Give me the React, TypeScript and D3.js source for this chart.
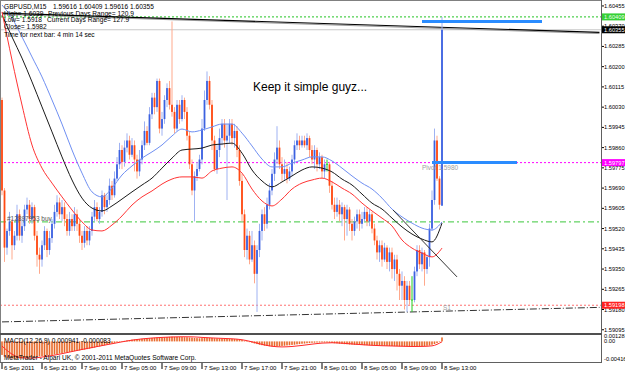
import React from "react";
import * as d3 from "d3";

const W = 625;
const H = 373;

// GBPUSD M15 bars, 6 Sep 17:00 .. 8 Sep 13:00 : [open, high, low, close]
const candles: number[][] = [
  [1.6006,1.6007,1.5966,1.5968],[1.5968,1.5969,1.5938,1.5944],[1.5944,1.5952,1.5941,1.5951],[1.5951,1.5959,1.5949,1.5955],[1.5955,1.5956,1.5939,1.5945],
  [1.5945,1.5951,1.5943,1.5949],[1.5949,1.5962,1.5947,1.5958],[1.5958,1.5960,1.5947,1.5949],[1.5949,1.5956,1.5946,1.5953],[1.5953,1.5962,1.5951,1.5960],
  [1.5960,1.5965,1.5958,1.5962],[1.5962,1.5964,1.5954,1.5956],[1.5956,1.5963,1.5954,1.5961],[1.5961,1.5962,1.5947,1.5949],[1.5949,1.5951,1.5936,1.5941],
  [1.5941,1.5944,1.5933,1.5939],[1.5939,1.5947,1.5936,1.5945],[1.5945,1.5953,1.5943,1.5951],[1.5951,1.5952,1.5940,1.5943],[1.5943,1.5951,1.5941,1.5948],
  [1.5948,1.5956,1.5946,1.5954],[1.5954,1.5962,1.5952,1.5959],[1.5959,1.5966,1.5957,1.5963],[1.5963,1.5965,1.5956,1.5958],[1.5958,1.5964,1.5955,1.5961],
  [1.5961,1.5963,1.5953,1.5956],[1.5956,1.5958,1.5949,1.5951],[1.5951,1.5959,1.5949,1.5956],[1.5956,1.5958,1.5951,1.5953],[1.5953,1.5961,1.5951,1.5958],
  [1.5958,1.5960,1.5951,1.5954],[1.5954,1.5956,1.5946,1.5949],[1.5949,1.5951,1.5943,1.5946],[1.5946,1.5953,1.5944,1.5951],[1.5951,1.5953,1.5945,1.5947],
  [1.5947,1.5953,1.5945,1.5951],[1.5951,1.5959,1.5949,1.5957],[1.5957,1.5964,1.5955,1.5961],[1.5961,1.5963,1.5955,1.5956],[1.5956,1.5961,1.5954,1.5959],
  [1.5959,1.5968,1.5957,1.5966],[1.5966,1.5967,1.5958,1.5961],[1.5961,1.5966,1.5959,1.5964],[1.5964,1.5973,1.5962,1.5970],[1.5970,1.5972,1.5964,1.5966],
  [1.5966,1.5976,1.5965,1.5973],[1.5973,1.5982,1.5972,1.5979],[1.5979,1.5988,1.5977,1.5985],[1.5985,1.5987,1.5977,1.5980],[1.5980,1.5989,1.5978,1.5986],
  [1.5986,1.5992,1.5984,1.5989],[1.5989,1.5991,1.5981,1.5983],[1.5983,1.5990,1.5982,1.5987],[1.5987,1.5989,1.5976,1.5981],[1.5981,1.5983,1.5973,1.5976],
  [1.5976,1.5985,1.5974,1.5981],[1.5981,1.5989,1.5979,1.5987],[1.5987,1.5997,1.5985,1.5993],[1.5993,1.5995,1.5987,1.5988],[1.5988,1.6003,1.5987,1.6000],
  [1.6000,1.6009,1.5998,1.6007],[1.6007,1.6009,1.6000,1.6003],[1.6003,1.6015,1.6001,1.6014],[1.6014,1.6015,1.5992,1.5994],[1.5994,1.6001,1.5991,1.5998],
  [1.5998,1.6008,1.5996,1.6006],[1.6006,1.6013,1.6003,1.6011],[1.6011,1.6014,1.6002,1.6004],[1.6004,1.6039,1.5999,1.6001],[1.6001,1.6003,1.5992,1.5994],
  [1.5994,1.6006,1.5993,1.6004],[1.6004,1.6006,1.5996,1.5998],[1.5998,1.6008,1.5997,1.6006],[1.6006,1.6007,1.5998,1.6001],[1.6001,1.6003,1.5989,1.5991],
  [1.5991,1.5993,1.5977,1.5979],[1.5979,1.5981,1.5966,1.5968],[1.5968,1.5976,1.5955,1.5974],[1.5974,1.5980,1.5972,1.5977],[1.5977,1.5983,1.5976,1.5981],
  [1.5981,1.5998,1.5979,1.5994],[1.5994,1.6010,1.5993,1.6006],[1.6006,1.6018,1.6004,1.6014],[1.6014,1.6016,1.6002,1.6004],[1.6004,1.6006,1.5985,1.5989],
  [1.5989,1.5991,1.5976,1.5977],[1.5977,1.5987,1.5975,1.5985],[1.5985,1.5994,1.5982,1.5990],[1.5990,1.5998,1.5987,1.5996],[1.5996,1.5998,1.5986,1.5989],
  [1.5989,1.5996,1.5964,1.5991],[1.5991,1.5998,1.5988,1.5996],[1.5996,1.5998,1.5987,1.5990],[1.5990,1.5996,1.5986,1.5993],[1.5993,1.5995,1.5982,1.5985],
  [1.5985,1.5987,1.5970,1.5972],[1.5972,1.5975,1.5955,1.5958],[1.5958,1.5960,1.5940,1.5943],[1.5943,1.5952,1.5939,1.5949],[1.5949,1.5951,1.5937,1.5939],
  [1.5939,1.5951,1.5938,1.5945],[1.5945,1.5947,1.5929,1.5933],[1.5933,1.5945,1.5917,1.5943],[1.5943,1.5954,1.5940,1.5951],[1.5951,1.5960,1.5947,1.5958],
  [1.5958,1.5961,1.5951,1.5954],[1.5954,1.5965,1.5952,1.5962],[1.5962,1.5971,1.5960,1.5968],[1.5968,1.5977,1.5966,1.5975],[1.5975,1.5984,1.5972,1.5981],
  [1.5981,1.5995,1.5979,1.5986],[1.5986,1.5989,1.5977,1.5979],[1.5979,1.5982,1.5972,1.5975],[1.5975,1.5981,1.5972,1.5977],[1.5977,1.5980,1.5971,1.5973],
  [1.5973,1.5978,1.5972,1.5976],[1.5976,1.5983,1.5974,1.5981],[1.5981,1.5989,1.5979,1.5987],[1.5987,1.5992,1.5985,1.5989],[1.5989,1.5991,1.5985,1.5987],
  [1.5987,1.5991,1.5986,1.5989],[1.5989,1.5991,1.5986,1.5987],[1.5987,1.5992,1.5985,1.5990],[1.5990,1.5991,1.5982,1.5985],[1.5985,1.5987,1.5979,1.5981],
  [1.5981,1.5987,1.5977,1.5985],[1.5985,1.5986,1.5976,1.5979],[1.5979,1.5984,1.5977,1.5982],[1.5982,1.5983,1.5973,1.5976],[1.5976,1.5981,1.5973,1.5979],
  [1.5979,1.5981,1.5976,1.5979],[1.5979,1.5980,1.5967,1.5970],[1.5970,1.5972,1.5960,1.5962],[1.5962,1.5965,1.5956,1.5959],[1.5959,1.5965,1.5957,1.5962],
  [1.5962,1.5964,1.5955,1.5958],[1.5958,1.5963,1.5953,1.5961],[1.5961,1.5962,1.5947,1.5956],[1.5956,1.5962,1.5949,1.5960],[1.5960,1.5961,1.5951,1.5954],
  [1.5954,1.5956,1.5947,1.5951],[1.5951,1.5957,1.5949,1.5955],[1.5955,1.5960,1.5952,1.5958],[1.5958,1.5960,1.5951,1.5954],[1.5954,1.5959,1.5952,1.5956],
  [1.5956,1.5961,1.5955,1.5959],[1.5959,1.5961,1.5953,1.5955],[1.5955,1.5960,1.5953,1.5958],[1.5958,1.5959,1.5950,1.5952],[1.5952,1.5954,1.5945,1.5947],
  [1.5947,1.5949,1.5939,1.5942],[1.5942,1.5947,1.5938,1.5945],[1.5945,1.5947,1.5936,1.5939],[1.5939,1.5946,1.5938,1.5944],[1.5944,1.5945,1.5935,1.5938],
  [1.5938,1.5944,1.5934,1.5942],[1.5942,1.5944,1.5931,1.5935],[1.5935,1.5941,1.5930,1.5939],[1.5939,1.5941,1.5926,1.5933],[1.5933,1.5935,1.5922,1.5928],
  [1.5928,1.5934,1.5922,1.5930],[1.5930,1.5932,1.5918,1.5922],[1.5922,1.5930,1.5917,1.5928],[1.5928,1.5930,1.5920,1.5922],[1.5922,1.5932,1.5917,1.5922],
  [1.5922,1.5936,1.5921,1.5934],[1.5934,1.5945,1.5932,1.5943],[1.5943,1.5945,1.5935,1.5937],[1.5937,1.5944,1.5934,1.5942],[1.5942,1.5943,1.5928,1.5935],
  [1.5935,1.5941,1.5933,1.5940],[1.5940,1.5954,1.5936,1.5952],[1.5952,1.5968,1.5951,1.5964],[1.5964,1.5994,1.5962,1.5989],[1.5989,1.5991,1.5972,1.5973],
  [1.5973,1.5974,1.5960,1.5962],[1.59616,1.60409,1.59616,1.60355],
];

// moving averages, one value every 4 bars
const maStep = 4;
const maBlue = [1.60459,1.60404,1.60325,1.60241,1.60157,1.60060,1.59959,1.59850,1.59753,1.59674,1.59653,1.59690,1.59745,1.59783,1.59816,1.59842,1.59871,1.59909,1.59938,1.59926,1.59934,1.59947,1.59959,1.59959,1.59921,1.59867,1.59812,1.59779,1.59779,1.59795,1.59808,1.59821,1.59821,1.59804,1.59774,1.59741,1.59711,1.59686,1.59648,1.59602,1.59569,1.59543,1.59522,1.59514,1.59548];
const maBlack = [1.60417,1.60325,1.60236,1.60136,1.60031,1.59926,1.59821,1.59724,1.59648,1.59606,1.59594,1.59615,1.59644,1.59674,1.59703,1.59732,1.59774,1.59816,1.59850,1.59854,1.59858,1.59871,1.59875,1.59879,1.59837,1.59766,1.59720,1.59695,1.59716,1.59741,1.59766,1.59779,1.59774,1.59758,1.59728,1.59703,1.59665,1.59627,1.59602,1.59564,1.59527,1.59497,1.59476,1.59464,1.59543];
const maRed = [1.60430,1.60228,1.60039,1.59871,1.59774,1.59711,1.59653,1.59598,1.59548,1.59514,1.59510,1.59535,1.59573,1.59619,1.59653,1.59678,1.59707,1.59728,1.59737,1.59737,1.59732,1.59762,1.59774,1.59779,1.59753,1.59686,1.59636,1.59615,1.59644,1.59686,1.59711,1.59724,1.59732,1.59716,1.59690,1.59665,1.59627,1.59594,1.59564,1.59531,1.59472,1.59438,1.59417,1.59401,1.59438];

// MACD(12,26,9) in points (0.00001)
const macdPoint = 0.00001;
const macdMain = [
  -320,-362,-388,-401,-409,-412,-407,-403,-396,-391,-386,-377,-371,-363,-361,-355,-349,-345,-337,-331,
  -321,-309,-299,-287,-279,-267,-261,-249,-241,-229,-221,-213,-203,-195,-183,-173,-159,-147,-131,-119,
  -103,-91,-75,-63,-47,-35,-21,-9,5,13,25,31,41,45,51,53,59,61,69,73,
  81,85,91,91,95,97,103,107,111,107,107,103,103,99,99,93,89,81,79,75,
  79,81,87,83,81,73,71,67,67,63,63,59,59,55,53,43,33,15,1,-17,
  -31,-49,-63,-79,-89,-101,-107,-115,-117,-121,-117,-115,-107,-103,-95,-91,-83,-79,-69,-63,
  -55,-51,-43,-39,-33,-31,-27,-27,-23,-25,-25,-31,-35,-43,-47,-55,-59,-65,-67,-73,
  -75,-81,-81,-85,-85,-89,-89,-93,-93,-97,-97,-101,-101,-105,-105,-109,-109,-113,-113,-117,
  -117,-121,-121,-125,-125,-123,-119,-117,-111,-109,-103,-97,-79,-61,-39,-11,94,
];
const macdSignal = [-110,-300,-390,-395,-370,-335,-290,-240,-190,-145,-100,-55,-10,30,60,80,95,105,110,108,95,82,72,62,40,-10,-70,-115,-130,-120,-95,-65,-40,-32,-42,-60,-78,-92,-102,-108,-114,-120,-118,-105,-8];

const timeLabels = ["6 Sep 2011","6 Sep 21:00","7 Sep 01:00","7 Sep 05:00","7 Sep 09:00","7 Sep 13:00","7 Sep 17:00","7 Sep 21:00","8 Sep 01:00","8 Sep 05:00","8 Sep 09:00","8 Sep 13:00"];
const timeLabelStep = 16;
const priceTicks = [1.60455,1.60370,1.60285,1.60200,1.60115,1.60030,1.59945,1.59860,1.59775,1.59690,1.59605,1.59520,1.59435,1.59350,1.59265,1.59180,1.59095];
const macdTicks = ["0.00128", "0.00", "-0.00416"];
const macdTickValues = [0.00128, 0.0, -0.00416];

const dayHigh = 1.60409;
const bid = 1.60355;
const pivot = 1.59797;
const s1 = 1.59198;
const orderPrice = 1.59548;
const highLevel = 1.6039;
const highLevelBars = [168, 216];
const pivotBars = [172, 206];
const topTrend = [[0, 1.60425], [239, 1.60344]];
const bottomTrend = [[0, 1.59128], [239, 1.59189]];
const shortTrend = [[156.4, 1.59598], [182, 1.59317]];

const FONT = "'Liberation Sans', Arial, sans-serif";

export default function App() {
  const x = d3.scaleLinear().domain([0, 176]).range([2, 442]);
  const y = d3.scaleLinear().domain([1.590814, 1.6048]).range([333, 0]);
  const my = d3.scaleLinear().domain([-0.00416, 0.00128]).range([359, 336]);
  const plotRight = 601;

  const maLine = d3
    .line<number>()
    .x((_, i) => x(i * maStep))
    .y((d) => y(d))
    .curve(d3.curveMonotoneX);
  const sigLine = d3
    .line<number>()
    .x((_, i) => x(i * maStep))
    .y((d) => my(d * macdPoint))
    .curve(d3.curveMonotoneX);

  const bw = 1.8;
  const axFont = 5.7;

  return (
    <svg
      width={W}
      height={H}
      style={{ position: "absolute", left: 0, top: 0, background: "#fff" }}
      fontFamily={FONT}
    >
      <defs>
        <clipPath id="main">
          <rect x={0} y={0} width={plotRight} height={333} />
        </clipPath>
        <clipPath id="sub">
          <rect x={0} y={335} width={plotRight} height={27} />
        </clipPath>
      </defs>
      <rect x={0} y={0} width={W} height={H} fill="#fff" />

      <g clipPath="url(#main)">
        <line x1={0} x2={plotRight} y1={y(dayHigh)} y2={y(dayHigh)} stroke="#22c422" strokeDasharray="2,2" />
        <line x1={0} x2={plotRight} y1={y(bid)} y2={y(bid)} stroke="#c8c8c8" />
        <line x1={0} x2={plotRight} y1={y(pivot)} y2={y(pivot)} stroke="#ff00ff" strokeDasharray="2,2" />
        <line x1={0} x2={plotRight} y1={y(s1)} y2={y(s1)} stroke="#ff7070" strokeDasharray="2,2" />
        <line x1={0} x2={plotRight} y1={y(orderPrice)} y2={y(orderPrice)} stroke="#3cc83c" strokeDasharray="6,3,2,3" />
        <line x1={x(topTrend[0][0])} y1={y(topTrend[0][1]) + 1.2} x2={x(topTrend[1][0])} y2={y(topTrend[1][1]) + 1.2} stroke="#9a9a9a" />
        <line x1={x(topTrend[0][0])} y1={y(topTrend[0][1])} x2={x(topTrend[1][0])} y2={y(topTrend[1][1])} stroke="#000" strokeWidth={1.2} />
        <line x1={x(bottomTrend[0][0])} y1={y(bottomTrend[0][1])} x2={x(bottomTrend[1][0])} y2={y(bottomTrend[1][1])} stroke="#333" strokeDasharray="7,2,1,2" />

        {candles.map((c, i) => {
          const [o, h, l, cl] = c;
          const cx = x(i);
          const doji = Math.abs(o - cl) < 1e-6;
          const bull = cl > o;
          const body = doji ? "#20d020" : bull ? "#3c62e0" : "#ff4a12";
          const wick = doji ? "#20d020" : bull ? "#9fb2f2" : "#ffa98c";
          const top = y(Math.max(o, cl));
          const bot = y(Math.min(o, cl));
          return (
            <g key={i}>
              <line x1={cx} x2={cx} y1={y(h)} y2={y(l)} stroke={wick} strokeWidth={1} />
              {doji ? (
                <line x1={cx - bw / 2} x2={cx + bw / 2} y1={top} y2={top} stroke={body} />
              ) : (
                <rect x={cx - bw / 2} y={top} width={bw} height={Math.max(1, bot - top)} fill={body} />
              )}
            </g>
          );
        })}

        <path d={maLine(maBlue) || ""} fill="none" stroke="#6f8ff2" strokeWidth={1} />
        <path d={maLine(maBlack) || ""} fill="none" stroke="#1a1a1a" strokeWidth={1} />
        <path d={maLine(maRed) || ""} fill="none" stroke="#ff3434" strokeWidth={1} />

        <line x1={x(shortTrend[0][0])} y1={y(shortTrend[0][1])} x2={x(shortTrend[1][0])} y2={y(shortTrend[1][1])} stroke="#333" />

        <line x1={x(highLevelBars[0])} x2={x(highLevelBars[1])} y1={y(highLevel)} y2={y(highLevel)} stroke="#2a8cff" strokeWidth={3} />
        <line x1={x(pivotBars[0])} x2={x(pivotBars[1])} y1={y(pivot)} y2={y(pivot)} stroke="#2a8cff" strokeWidth={3} />
        <text x={x(pivotBars[0]) - 10} y={y(pivot) + 7} fontSize={6.5} fill="#a0a0a0">Pivot  1.5980</text>
        <text x={x(176) + 1} y={y(s1) + 5} fontSize={6.5} fill="#a0a0a0">S1</text>
        <text x={7} y={y(orderPrice) - 1} fontSize={6.5} fill="#555">#12897953 buy</text>

        <text x={253} y={91} fontSize={12} fill="#000">Keep it simple guyz...</text>

        <g fontSize={6.6} fill="#000">
          <text x={4} y={8.5}>GBPUSD,M15</text>
          <text x={53} y={8.5}>1.59616 1.60409 1.59616 1.60355</text>
          <text x={4} y={15.5}>High= 1.6039</text>
          <text x={48} y={15.5}>Previous Days Range= 120.9</text>
          <text x={4} y={22}>Low= 1.5918</text>
          <text x={47} y={22}>Current Days Range= 127.9</text>
          <text x={4} y={29}>Close= 1.5982</text>
          <text x={4} y={36.5}>Time for next bar: 4 min 14 sec</text>
        </g>
      </g>

      <g clipPath="url(#sub)">
        {macdMain.map((v, i) => {
          const y0 = my(0);
          const y1 = my(v * macdPoint);
          return (
            <rect key={i} x={x(i) - 0.8} y={Math.min(y0, y1)} width={1.6} height={Math.max(0.5, Math.abs(y1 - y0))} fill="#e8692a" />
          );
        })}
        <path d={sigLine(macdSignal) || ""} fill="none" stroke="#ff2a2a" strokeWidth={1} />
        <text x={4} y={343} fontSize={6.6} fill="#000">MACD(12,26,9) 0.000941 -0.000083</text>
        <text x={4} y={360} fontSize={6.6} fill="#000">MetaTrader - Alpari UK, © 2001-2011 MetaQuotes Software Corp.</text>
      </g>

      <line x1={0.5} x2={0.5} y1={0} y2={362} stroke="#808080" />
      <line x1={0} x2={plotRight} y1={0.5} y2={0.5} stroke="#808080" />
      <line x1={plotRight + 0.5} x2={plotRight + 0.5} y1={0} y2={362} stroke="#606060" />
      <rect x={0} y={333} width={plotRight + 1} height={2} fill="#505050" />
      <line x1={0} x2={plotRight + 1} y1={362.5} y2={362.5} stroke="#606060" />

      <g fontSize={axFont} fill="#000">
        {priceTicks.map((p) => (
          <g key={p}>
            <line x1={plotRight + 1} x2={plotRight + 3} y1={y(p)} y2={y(p)} stroke="#000" />
            <text x={604} y={y(p) + 2}>{p.toFixed(5)}</text>
          </g>
        ))}
        {macdTicks.map((t, i) => (
          <g key={t}>
            <text x={604} y={my(macdTickValues[i]) + 2}>{t}</text>
          </g>
        ))}
      </g>
      {[
        { p: dayHigh, fill: "#36d036", color: "#eaffea" },
        { p: bid, fill: "#000", color: "#fff" },
        { p: pivot, fill: "#ff00ff", color: "#fff" },
        { p: s1, fill: "#ff2020", color: "#fff" },
      ].map((b) => (
        <g key={b.p}>
          <rect x={plotRight + 1} y={y(b.p) - 3.5} width={W - plotRight} height={7} fill={b.fill} />
          <text x={604} y={y(b.p) + 2} fontSize={axFont} fill={b.color}>{b.p.toFixed(5)}</text>
        </g>
      ))}

      <g fontSize={6} fill="#000">
        {timeLabels.map((t, k) => {
          const tx = x(k * timeLabelStep);
          return (
            <g key={t}>
              <line x1={tx} x2={tx} y1={363} y2={369} stroke="#000" />
              <text x={tx + 2} y={370}>{t}</text>
            </g>
          );
        })}
      </g>
    </svg>
  );
}
